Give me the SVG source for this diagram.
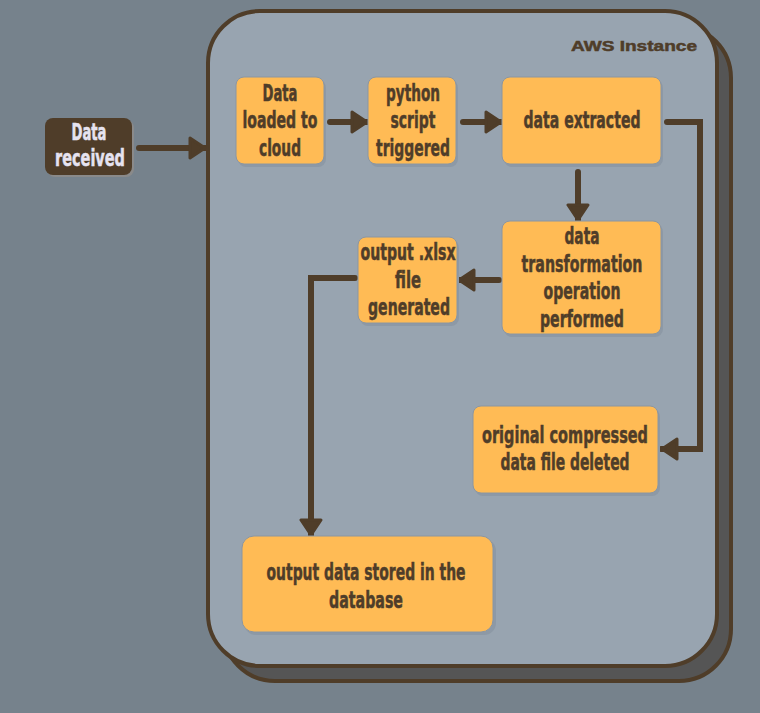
<svg xmlns="http://www.w3.org/2000/svg" width="760" height="713" viewBox="0 0 760 713">
<defs>
<style>
.nt{font-family:"DejaVu Sans Condensed","DejaVu Sans","Liberation Sans",sans-serif;font-weight:bold;font-size:23px;fill:#4f3d29;stroke:#4f3d29;stroke-width:0.5;text-anchor:middle}
.lt{fill:#e6e3f0;stroke:#e6e3f0}
.box{fill:#ffbb55;stroke:#8a96a3;stroke-width:1}
.sh{fill:#8d99a6}
.ln{fill:none;stroke:#4f3d29;stroke-width:6;stroke-linecap:round;stroke-linejoin:miter}
</style>
<marker id="ah" viewBox="0 0 19 24" refX="18" refY="12" markerWidth="19" markerHeight="24" markerUnits="userSpaceOnUse" orient="auto">
<path d="M2,2 L17,12 L2,22 Z" fill="#4f3d29" stroke="#4f3d29" stroke-width="3" stroke-linejoin="round"/>
</marker>
</defs>
<rect width="760" height="713" fill="#76828c"/>
<g id="aws-instance">
<rect x="223" y="26" width="508" height="655" rx="52" fill="#555555" stroke="#4f3d29" stroke-width="4"/>
<rect x="208" y="11" width="509" height="655" rx="52" fill="#98a4b0" stroke="#4f3d29" stroke-width="4"/>
<text x="697" y="51" font-family="'Liberation Sans',Arial,sans-serif" font-weight="900" font-size="15" fill="#4f3d29" stroke="#4f3d29" stroke-width="0.5" text-anchor="end" textLength="126" lengthAdjust="spacingAndGlyphs">AWS Instance</text>
</g>
<g id="connectors">
<path class="ln" d="M139,148 H206" marker-end="url(#ah)"/>
<path class="ln" d="M330,122 H368" marker-end="url(#ah)"/>
<path class="ln" d="M463,122 H502" marker-end="url(#ah)"/>
<path class="ln" d="M578,172 V221" marker-end="url(#ah)"/>
<path class="ln" d="M667,122 H700 V449 H661" marker-end="url(#ah)"/>
<path class="ln" d="M499,280 H458" marker-end="url(#ah)"/>
<path class="ln" d="M355,278 H311 V536" marker-end="url(#ah)"/>
</g>
<g id="data-received">
<rect x="47" y="120" width="87" height="57" rx="8" fill="#8a8a8a"/>
<rect x="45" y="118" width="87" height="57" rx="8" fill="#4f3d29"/>
<text class="nt lt" x="89" y="140" textLength="35" lengthAdjust="spacingAndGlyphs">Data</text>
<text class="nt lt" x="90" y="166" textLength="70" lengthAdjust="spacingAndGlyphs">received</text>
</g>
<g id="data-loaded">
<rect class="sh" x="238" y="80" width="88" height="87" rx="8"/>
<rect class="box" x="236" y="77" width="88" height="87" rx="8"/>
<text class="nt" x="280" y="101" textLength="35" lengthAdjust="spacingAndGlyphs">Data</text>
<text class="nt" x="280" y="128" textLength="75" lengthAdjust="spacingAndGlyphs">loaded to</text>
<text class="nt" x="280" y="156" textLength="42" lengthAdjust="spacingAndGlyphs">cloud</text>
</g>
<g id="python-script">
<rect class="sh" x="370" y="80" width="88" height="87" rx="8"/>
<rect class="box" x="368" y="77" width="88" height="87" rx="8"/>
<text class="nt" x="413" y="101" textLength="54" lengthAdjust="spacingAndGlyphs">python</text>
<text class="nt" x="413" y="128" textLength="45" lengthAdjust="spacingAndGlyphs">script</text>
<text class="nt" x="413" y="156" textLength="74" lengthAdjust="spacingAndGlyphs">triggered</text>
</g>
<g id="data-extracted">
<rect class="sh" x="504" y="80" width="159" height="87" rx="8"/>
<rect class="box" x="502" y="77" width="159" height="87" rx="8"/>
<text class="nt" x="582" y="128" textLength="117" lengthAdjust="spacingAndGlyphs">data extracted</text>
</g>
<g id="data-transformation">
<rect class="sh" x="504" y="224" width="159" height="113" rx="8"/>
<rect class="box" x="502" y="221" width="159" height="113" rx="8"/>
<text class="nt" x="582" y="244" textLength="35" lengthAdjust="spacingAndGlyphs">data</text>
<text class="nt" x="582" y="272" textLength="121" lengthAdjust="spacingAndGlyphs">transformation</text>
<text class="nt" x="582" y="299" textLength="77" lengthAdjust="spacingAndGlyphs">operation</text>
<text class="nt" x="582" y="327" textLength="84" lengthAdjust="spacingAndGlyphs">performed</text>
</g>
<g id="output-xlsx">
<rect class="sh" x="360" y="240" width="99" height="86" rx="8"/>
<rect class="box" x="358" y="237" width="99" height="86" rx="8"/>
<text class="nt" x="408" y="260" textLength="95" lengthAdjust="spacingAndGlyphs">output .xlsx</text>
<text class="nt" x="408" y="288" textLength="26" lengthAdjust="spacingAndGlyphs">file</text>
<text class="nt" x="409" y="315" textLength="82" lengthAdjust="spacingAndGlyphs">generated</text>
</g>
<g id="original-deleted">
<rect class="sh" x="475" y="409" width="185" height="87" rx="8"/>
<rect class="box" x="473" y="406" width="185" height="87" rx="8"/>
<text class="nt" x="565" y="443" textLength="166" lengthAdjust="spacingAndGlyphs">original compressed</text>
<text class="nt" x="565" y="470" textLength="129" lengthAdjust="spacingAndGlyphs">data file deleted</text>
</g>
<g id="output-database">
<rect class="sh" x="244" y="539" width="252" height="96" rx="12"/>
<rect class="box" x="242" y="536" width="251" height="96" rx="12"/>
<text class="nt" x="366" y="580" textLength="199" lengthAdjust="spacingAndGlyphs">output data stored in the</text>
<text class="nt" x="366" y="608" textLength="74" lengthAdjust="spacingAndGlyphs">database</text>
</g>
</svg>
